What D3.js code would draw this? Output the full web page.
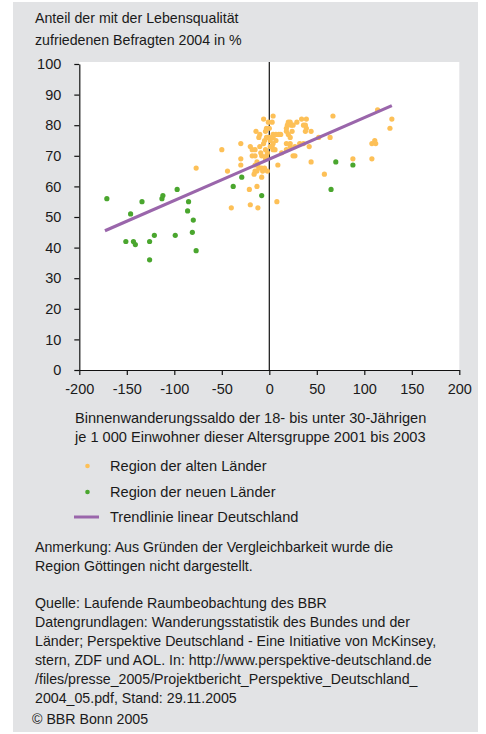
<!DOCTYPE html>
<html><head><meta charset="utf-8">
<script src="https://cdn.jsdelivr.net/npm/d3@7"></script>
<style>
html,body{margin:0;padding:0;background:#fff;}
svg text{font-family:"Liberation Sans",Arial,Helvetica,sans-serif;fill:#1a1a1a;}
</style></head>
<body>
<svg id="c" width="486" height="734"></svg>
<script>
// Region der alten Länder: [Binnenwanderungssaldo, Anteil zufrieden %]
const alteLaender = [
 [-77,66],[-50,72],[-44,65],[-40,53],[-30,74],[-30,69],[-30,67],[-21,59],[-20,54],[-12,53],[-13,60],[-8,63],
 [-6,82],[-1,81],[4,83],[3,81],[-14,78],[-10,77],[-4,78],[0,79],[-3,79],[-11,76],[-3,76],[-2,76],
 [-20,73],[-18,72],[-15,72],[-10,73],[-6,74],[1,73],[-4,72],[-5,75],[-18,70],[-15,70],[-8,70],[-3,70],
 [-9,71],[-2,71],[-13,68],[-15,67],[-12,67],[-4,69],[-11,66],[-8,66],[-5,66],[-13,65],[-2,65],[-15,65],
 [-7,65],[-16,64],
 [4,77],[7,77],[10,77],[12,77],[0,76],[4,76],[1,75],[7,75],[4,74],[3,73],[6,72],[4,72],[9,67],[8,55],
 [18,79],[20,81],[22,81],[23,80],[25,80],[19,80],[29,81],[34,82],[39,82],[36,80],[38,80],[39,79],
 [18,78],[24,78],[38,78],[44,78],[20,77],[22,76],[18,74],[22,74],[22,73],[32,74],[36,74],[42,73],
 [27,73],[13,71],[18,72],[25,70],[27,70],[44,68],[52,76],[64,76],[67,83],[58,64],[88,69],[108,69],
 [108,74],[111,75],[112,74],[114,85],[129,82],[127,79]
];
// Region der neuen Länder
const neueLaender = [
 [-171,56],[-146,51],[-134,55],[-113,56],[-112,57],[-97,59],[-85,55],[-86,52],[-80,49],[-81,45],[-77,39],
 [-99,44],[-121,44],[-126,42],[-126,36],[-151,42],[-143,42],[-141,41],[-38,60],[-29,63],[-8,57],
 [70,68],[88,67],[65,59]
];
// Trendlinie linear Deutschland (Endpunkte)
const trendX = [-173, 129];
const trendY = [45.5, 86.4];
const xTicks = [-200,-150,-100,-50,0,50,100,150,200];
const yTicks = [0,10,20,30,40,50,60,70,80,90,100];
const titleLines = ["Anteil der mit der Lebensqualität","zufriedenen Befragten 2004 in %"];
const xTitleLines = ["Binnenwanderungssaldo der 18- bis unter 30-Jährigen","je 1 000 Einwohner dieser Altersgruppe 2001 bis 2003"];
const legendLabels = ["Region der alten Länder","Region der neuen Länder","Trendlinie linear Deutschland"];
const noteLines = ["Anmerkung: Aus Gründen der Vergleichbarkeit wurde die","Region Göttingen nicht dargestellt."];
const sourceLines = ["Quelle: Laufende Raumbeobachtung des BBR",
 "Datengrundlagen: Wanderungsstatistik des Bundes und der",
 "Länder; Perspektive Deutschland - Eine Initiative von McKinsey,",
 "stern, ZDF und AOL. In: http://www.perspektive-deutschland.de",
 "/files/presse_2005/Projektbericht_Perspektive_Deutschland_",
 "2004_05.pdf, Stand: 29.11.2005"];
const copyright = "© BBR Bonn 2005";

const cOrange = "#fdc057", cGreen = "#4aa62e", cPurple = "#9a66ab";
const svg = d3.select("#c");
svg.append("rect").attr("x",13).attr("y",2).attr("width",465).attr("height",730).attr("fill","#e2e3e5");

const L=79.3, R=459.3, T=64, B=370;
const x = d3.scaleLinear().domain([-200,200]).range([L,R]);
const y = d3.scaleLinear().domain([0,100]).range([B,T]);

svg.append("rect").attr("x",L).attr("y",62).attr("width",R-L).attr("height",B-62).attr("fill","#fff");

const fs = "14.2px";
titleLines.forEach((t,i)=>svg.append("text").attr("x",35).attr("y",23+i*22).style("font-size",fs).text(t));

const fmt = d => String(d);
const yAxis = svg.append("g").attr("transform",`translate(${L},0)`)
  .call(d3.axisLeft(y).tickValues(yTicks).tickFormat(fmt).tickSize(5).tickPadding(13).tickSizeOuter(0));
const xAxis = svg.append("g").attr("transform",`translate(0,${B})`)
  .call(d3.axisBottom(x).tickValues(xTicks).tickFormat(fmt).tickSize(5).tickPadding(9).tickSizeOuter(0));
[yAxis,xAxis].forEach(g=>{
  g.selectAll("path").attr("stroke","#111").attr("stroke-width",1.2);
  g.selectAll("line").attr("stroke","#111").attr("stroke-width",1.2);
  g.selectAll("text").style("font-size","14.5px").attr("fill","#1a1a1a");
});

// vertical zero line
svg.append("line").attr("x1",x(0)).attr("x2",x(0)).attr("y1",62).attr("y2",B)
  .attr("stroke","#111").attr("stroke-width",1.2);

svg.append("g").selectAll("circle").data(alteLaender).join("circle")
  .attr("cx",d=>x(d[0])).attr("cy",d=>y(d[1])).attr("r",2.6).attr("fill",cOrange);
svg.append("g").selectAll("circle").data(neueLaender).join("circle")
  .attr("cx",d=>x(d[0])).attr("cy",d=>y(d[1])).attr("r",2.6).attr("fill",cGreen);

svg.append("line").attr("x1",x(trendX[0])).attr("y1",y(trendY[0]))
  .attr("x2",x(trendX[1])).attr("y2",y(trendY[1]))
  .attr("stroke",cPurple).attr("stroke-width",3.2);

xTitleLines.forEach((t,i)=>svg.append("text").attr("x",75).attr("y",423+i*19).style("font-size","14.6px").text(t));

// legend
const ly = [466,492,517];
svg.append("circle").attr("cx",87.5).attr("cy",ly[0]).attr("r",2.3).attr("fill",cOrange);
svg.append("circle").attr("cx",87.5).attr("cy",ly[1]).attr("r",2.3).attr("fill",cGreen);
svg.append("line").attr("x1",74).attr("x2",99).attr("y1",ly[2]).attr("y2",ly[2]).attr("stroke",cPurple).attr("stroke-width",3);
legendLabels.forEach((t,i)=>svg.append("text").attr("x",110).attr("y",ly[i]+5).style("font-size","14.6px").text(t));

noteLines.forEach((t,i)=>svg.append("text").attr("x",35).attr("y",552+i*19).style("font-size",fs).text(t));
sourceLines.forEach((t,i)=>svg.append("text").attr("x",35).attr("y",608+i*19).style("font-size",fs).text(t));
svg.append("text").attr("x",32).attr("y",724).style("font-size",fs).text(copyright);
</script>
</body></html>
